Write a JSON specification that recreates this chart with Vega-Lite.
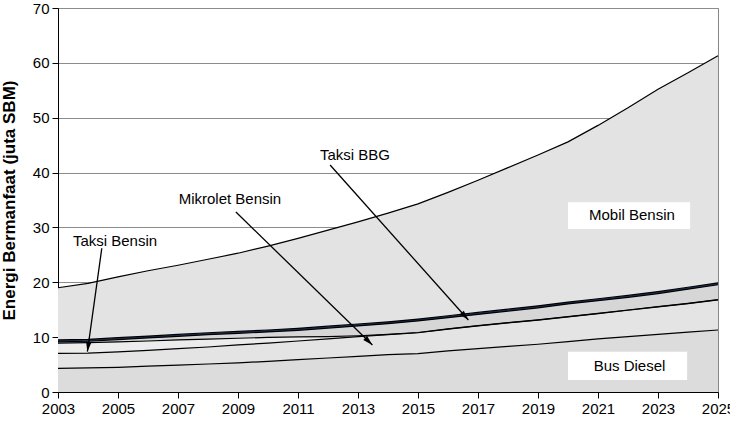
{
  "$schema": "https://vega.github.io/schema/vega-lite/v6.json",
  "width": 660,
  "height": 384,
  "autosize": {"type": "none"},
  "padding": {"left": 58, "top": 8, "right": 12, "bottom": 36},
  "background": "white",
  "config": {
    "font": "Liberation Sans",
    "view": {"stroke": "#888888", "strokeWidth": 1},
    "axis": {"labelColor": "black", "labelFontSize": 15, "tickColor": "black", "domainColor": "black", "titleColor": "black"}
  },
  "datasets": {
    "energi": [
      {"tahun": 2003, "Bus Diesel": 4.3, "Mikrolet Bensin": 2.75, "Taksi Bensin": 1.85, "Taksi BBG": 0.25, "Mikrolet BBG": 0.35, "Mobil Bensin": 9.5},
      {"tahun": 2004, "Bus Diesel": 4.4, "Mikrolet Bensin": 2.7, "Taksi Bensin": 1.9, "Taksi BBG": 0.25, "Mikrolet BBG": 0.35, "Mobil Bensin": 10.2},
      {"tahun": 2005, "Bus Diesel": 4.5, "Mikrolet Bensin": 2.8, "Taksi Bensin": 1.85, "Taksi BBG": 0.4, "Mikrolet BBG": 0.35, "Mobil Bensin": 11.1},
      {"tahun": 2006, "Bus Diesel": 4.7, "Mikrolet Bensin": 2.9, "Taksi Bensin": 1.7, "Taksi BBG": 0.55, "Mikrolet BBG": 0.35, "Mobil Bensin": 11.9},
      {"tahun": 2007, "Bus Diesel": 4.9, "Mikrolet Bensin": 3.0, "Taksi Bensin": 1.6, "Taksi BBG": 0.65, "Mikrolet BBG": 0.35, "Mobil Bensin": 12.6},
      {"tahun": 2008, "Bus Diesel": 5.1, "Mikrolet Bensin": 3.1, "Taksi Bensin": 1.45, "Taksi BBG": 0.8, "Mikrolet BBG": 0.35, "Mobil Bensin": 13.4},
      {"tahun": 2009, "Bus Diesel": 5.3, "Mikrolet Bensin": 3.3, "Taksi Bensin": 1.2, "Taksi BBG": 0.9, "Mikrolet BBG": 0.35, "Mobil Bensin": 14.25},
      {"tahun": 2010, "Bus Diesel": 5.6, "Mikrolet Bensin": 3.3, "Taksi Bensin": 1.05, "Taksi BBG": 1.0, "Mikrolet BBG": 0.35, "Mobil Bensin": 15.3},
      {"tahun": 2011, "Bus Diesel": 5.9, "Mikrolet Bensin": 3.4, "Taksi Bensin": 0.75, "Taksi BBG": 1.2, "Mikrolet BBG": 0.35, "Mobil Bensin": 16.4},
      {"tahun": 2012, "Bus Diesel": 6.2, "Mikrolet Bensin": 3.5, "Taksi Bensin": 0.4, "Taksi BBG": 1.55, "Mikrolet BBG": 0.35, "Mobil Bensin": 17.5},
      {"tahun": 2013, "Bus Diesel": 6.5, "Mikrolet Bensin": 3.6, "Taksi Bensin": 0.15, "Taksi BBG": 1.8, "Mikrolet BBG": 0.35, "Mobil Bensin": 18.6},
      {"tahun": 2014, "Bus Diesel": 6.8, "Mikrolet Bensin": 3.65, "Taksi Bensin": 0.05, "Taksi BBG": 1.95, "Mikrolet BBG": 0.35, "Mobil Bensin": 19.8},
      {"tahun": 2015, "Bus Diesel": 7.0, "Mikrolet Bensin": 3.8, "Taksi Bensin": 0.05, "Taksi BBG": 2.1, "Mikrolet BBG": 0.35, "Mobil Bensin": 21.0},
      {"tahun": 2016, "Bus Diesel": 7.5, "Mikrolet Bensin": 3.95, "Taksi Bensin": 0.05, "Taksi BBG": 2.05, "Mikrolet BBG": 0.35, "Mobil Bensin": 22.5},
      {"tahun": 2017, "Bus Diesel": 7.9, "Mikrolet Bensin": 4.15, "Taksi Bensin": 0.05, "Taksi BBG": 2.05, "Mikrolet BBG": 0.35, "Mobil Bensin": 24.1},
      {"tahun": 2018, "Bus Diesel": 8.3, "Mikrolet Bensin": 4.3, "Taksi Bensin": 0.05, "Taksi BBG": 2.1, "Mikrolet BBG": 0.35, "Mobil Bensin": 25.8},
      {"tahun": 2019, "Bus Diesel": 8.7, "Mikrolet Bensin": 4.4, "Taksi Bensin": 0.05, "Taksi BBG": 2.2, "Mikrolet BBG": 0.35, "Mobil Bensin": 27.5},
      {"tahun": 2020, "Bus Diesel": 9.2, "Mikrolet Bensin": 4.5, "Taksi Bensin": 0.05, "Taksi BBG": 2.3, "Mikrolet BBG": 0.35, "Mobil Bensin": 29.2},
      {"tahun": 2021, "Bus Diesel": 9.7, "Mikrolet Bensin": 4.6, "Taksi Bensin": 0.05, "Taksi BBG": 2.3, "Mikrolet BBG": 0.35, "Mobil Bensin": 31.6},
      {"tahun": 2022, "Bus Diesel": 10.1, "Mikrolet Bensin": 4.8, "Taksi Bensin": 0.05, "Taksi BBG": 2.3, "Mikrolet BBG": 0.35, "Mobil Bensin": 34.2},
      {"tahun": 2023, "Bus Diesel": 10.5, "Mikrolet Bensin": 5.0, "Taksi Bensin": 0.05, "Taksi BBG": 2.4, "Mikrolet BBG": 0.35, "Mobil Bensin": 36.9},
      {"tahun": 2024, "Bus Diesel": 10.9, "Mikrolet Bensin": 5.2, "Taksi Bensin": 0.05, "Taksi BBG": 2.6, "Mikrolet BBG": 0.35, "Mobil Bensin": 39.1},
      {"tahun": 2025, "Bus Diesel": 11.3, "Mikrolet Bensin": 5.5, "Taksi Bensin": 0.05, "Taksi BBG": 2.7, "Mikrolet BBG": 0.35, "Mobil Bensin": 41.4}
    ],
    "kotak": [
      {"teks": "Mobil Bensin", "tahun": 2020.0, "tahun2": 2024.07, "nilai": 29.7, "nilai2": 34.6},
      {"teks": "Bus Diesel", "tahun": 2020.0, "tahun2": 2023.97, "nilai": 2.2, "nilai2": 7.35}
    ],
    "label": [
      {"teks": "Mobil Bensin", "tahun": 2022.13, "nilai": 32.26},
      {"teks": "Bus Diesel", "tahun": 2022.05, "nilai": 4.65},
      {"teks": "Taksi BBG", "tahun": 2012.9, "nilai": 43.2},
      {"teks": "Mikrolet Bensin", "tahun": 2008.73, "nilai": 35.2},
      {"teks": "Taksi Bensin", "tahun": 2004.9, "nilai": 27.44}
    ],
    "panah": [
      {"nama": "Taksi Bensin", "tahun": 2004.46, "nilai": 26.2, "tahun2": 2003.98, "nilai2": 7.35},
      {"nama": "Mikrolet Bensin", "tahun": 2008.93, "nilai": 32.81, "tahun2": 2013.48, "nilai2": 8.57},
      {"nama": "Taksi BBG", "tahun": 2012.07, "nilai": 41.38, "tahun2": 2016.68, "nilai2": 13.12}
    ]
  },
  "layer": [
    {
      "data": {"name": "energi"},
      "transform": [
        {"fold": ["Bus Diesel", "Mikrolet Bensin", "Taksi Bensin", "Taksi BBG", "Mikrolet BBG", "Mobil Bensin"], "as": ["jenis", "nilai"]},
        {"calculate": "indexof(['Bus Diesel','Mikrolet Bensin','Taksi Bensin','Taksi BBG','Mikrolet BBG','Mobil Bensin'], datum.jenis)", "as": "urut"}
      ],
      "mark": {"type": "area", "opacity": 1},
      "encoding": {
        "x": {"field": "tahun", "type": "quantitative", "scale": {"domain": [2003, 2025], "nice": false},
          "axis": {"title": null, "values": [2003,2004,2005,2006,2007,2008,2009,2010,2011,2012,2013,2014,2015,2016,2017,2018,2019,2020,2021,2022,2023,2024,2025], "format": "d", "labelExpr": "datum.value % 2 == 1 ? datum.label : ''", "grid": false, "tickSize": 6, "labelPadding": 3, "labelFlush": false, "labelOverlap": false, "labelBound": false}},
        "y": {"field": "nilai", "type": "quantitative", "stack": "zero", "scale": {"domain": [0, 70], "nice": false},
          "axis": {"title": "Energi Bermanfaat (juta SBM)", "titleFontSize": 17, "titleFontWeight": "bold", "titlePadding": 14, "values": [0,10,20,30,40,50,60,70], "grid": true, "gridColor": "#8c8c8c", "gridWidth": 1, "tickSize": 6, "labelPadding": 3}},
        "color": {"field": "jenis", "type": "nominal", "legend": null,
          "scale": {"domain": ["Bus Diesel", "Mikrolet Bensin", "Taksi Bensin", "Taksi BBG", "Mikrolet BBG", "Mobil Bensin"],
                    "range": ["#dcdcdc", "#e4e4e4", "#ececec", "#d6d6d6", "#1f3864", "#e3e3e3"]}},
        "order": {"field": "urut", "type": "quantitative"}
      }
    },
    {
      "data": {"name": "energi"},
      "transform": [
        {"fold": ["Bus Diesel", "Mikrolet Bensin", "Taksi Bensin", "Taksi BBG", "Mikrolet BBG", "Mobil Bensin"], "as": ["jenis", "nilai"]},
        {"calculate": "indexof(['Bus Diesel','Mikrolet Bensin','Taksi Bensin','Taksi BBG','Mikrolet BBG','Mobil Bensin'], datum.jenis)", "as": "urut"}
      ],
      "mark": {"type": "line", "color": "black", "strokeWidth": 1.2},
      "encoding": {
        "x": {"field": "tahun", "type": "quantitative"},
        "y": {"field": "nilai", "type": "quantitative", "stack": "zero"},
        "detail": {"field": "jenis", "type": "nominal"},
        "order": {"field": "urut", "type": "quantitative"}
      }
    },
    {
      "data": {"name": "kotak"},
      "mark": {"type": "rect", "fill": "white"},
      "encoding": {
        "x": {"field": "tahun", "type": "quantitative"},
        "x2": {"field": "tahun2"},
        "y": {"field": "nilai", "type": "quantitative"},
        "y2": {"field": "nilai2"}
      }
    },
    {
      "data": {"name": "label"},
      "mark": {"type": "text", "fontSize": 15, "color": "black", "align": "center", "baseline": "middle", "font": "Liberation Sans"},
      "encoding": {
        "x": {"field": "tahun", "type": "quantitative"},
        "y": {"field": "nilai", "type": "quantitative"},
        "text": {"field": "teks"}
      }
    },
    {
      "data": {"name": "panah"},
      "mark": {"type": "rule", "color": "black", "strokeWidth": 1.3},
      "encoding": {
        "x": {"field": "tahun", "type": "quantitative"},
        "y": {"field": "nilai", "type": "quantitative"},
        "x2": {"field": "tahun2"},
        "y2": {"field": "nilai2"}
      }
    },
    {
      "data": {"name": "panah"},
      "transform": [{"filter": "datum.nama == 'Taksi Bensin'"}],
      "mark": {"type": "point", "shape": "M0,0 L-0.55,-2 L0.55,-2 Z", "size": 100, "filled": true, "color": "black", "opacity": 1, "angle": 7.9},
      "encoding": {
        "x": {"field": "tahun2", "type": "quantitative"},
        "y": {"field": "nilai2", "type": "quantitative"}
      }
    },
    {
      "data": {"name": "panah"},
      "transform": [{"filter": "datum.nama == 'Mikrolet Bensin'"}],
      "mark": {"type": "point", "shape": "M0,0 L-0.55,-2 L0.55,-2 Z", "size": 100, "filled": true, "color": "black", "opacity": 1, "angle": -45.7},
      "encoding": {
        "x": {"field": "tahun2", "type": "quantitative"},
        "y": {"field": "nilai2", "type": "quantitative"}
      }
    },
    {
      "data": {"name": "panah"},
      "transform": [{"filter": "datum.nama == 'Taksi BBG'"}],
      "mark": {"type": "point", "shape": "M0,0 L-0.55,-2 L0.55,-2 Z", "size": 100, "filled": true, "color": "black", "opacity": 1, "angle": -41.7},
      "encoding": {
        "x": {"field": "tahun2", "type": "quantitative"},
        "y": {"field": "nilai2", "type": "quantitative"}
      }
    }
  ]
}
